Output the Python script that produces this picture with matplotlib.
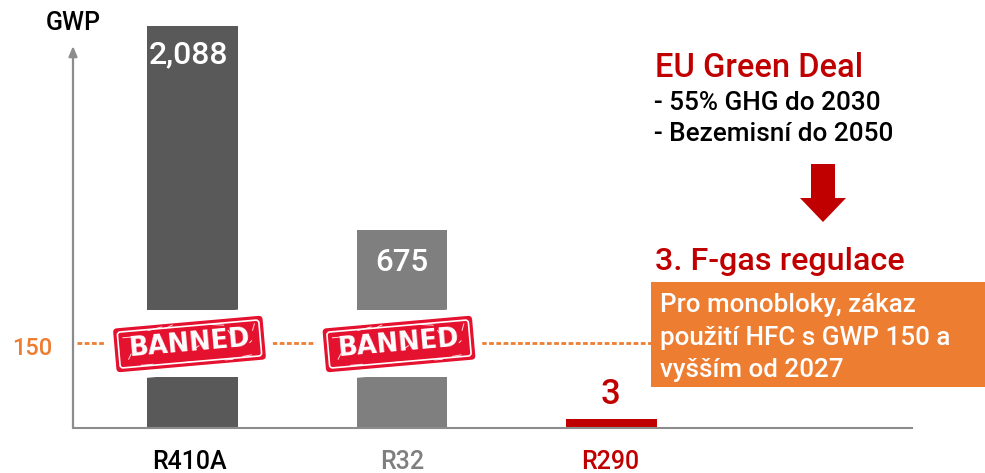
import numpy as np
import matplotlib
matplotlib.use('Agg')
import matplotlib.pyplot as plt
from matplotlib.patches import FancyBboxPatch, Polygon, Rectangle
from matplotlib.transforms import Affine2D

plt.rcParams['font.family'] = ['Roboto', 'DejaVu Sans']

W, H = 985, 473

refrigerants = ['R410A', 'R32', 'R290']
gwp_values = [2088, 675, 3]
gwp_labels = ['2,088', '675', '3']
bar_colors = ['#595959', '#7f7f7f', '#c00000']
label_colors = ['#000000', '#7f7f7f', '#c00000']
limit_gwp = 150
limit_label = '150'
banned_refrigerants = ['R410A', 'R32']
deal_lines = ['- 55% GHG do 2030', '- Bezemisní do 2050']
box_lines = ['Pro monobloky, zákaz', 'použití HFC s GWP 150 a', 'vyšším od 2027']

# the original bars are not to scale, so the y axis is piecewise
scale_values = [0, 3, 150, 675, 2088, 2500]
scale_heights = [0, 9, 85, 198, 402, 428]


def forward(v):
    return np.interp(v, scale_values, scale_heights)


def inverse(h):
    return np.interp(h, scale_heights, scale_values)


def put(x, y, s, **kw):
    # text placed by pixel position, y from the top
    kw.setdefault('ha', 'left')
    kw.setdefault('va', 'center')
    return fig.text(x / W, 1 - y / H, s, **kw)


fig = plt.figure(figsize=(W / 100, H / 100), dpi=100)
ax = fig.add_axes([73 / W, (H - 428) / H, (912 - 73) / W, 428 / H])
ax.set_yscale('function', functions=(forward, inverse))
ax.set_ylim(0, 2500)
ax.set_xlim(-0.570, 3.434)
ax.patch.set_alpha(0)

x = np.arange(len(refrigerants))
ax.bar(x, gwp_values, width=0.434, color=bar_colors, zorder=2)

for s in ['top', 'right', 'left']:
    ax.spines[s].set_visible(False)
ax.spines['bottom'].set_color('#8c8c8c')
ax.spines['bottom'].set_linewidth(1.5)
ax.set_xticks([])
ax.set_yticks([])
ax.minorticks_off()

# y axis arrow
ax.annotate('', xy=(73 / W, 1 - 46 / H), xytext=(73 / W, 1 - 428 / H), xycoords='figure fraction',
            textcoords='figure fraction',
            arrowprops=dict(arrowstyle='-|>,head_width=0.25,head_length=0.6', color='#8c8c8c', lw=1.6,
                            shrinkA=0, shrinkB=0), annotation_clip=False)

# break in the banned bars
for name in banned_refrigerants:
    i = refrigerants.index(name)
    ax.bar(i, inverse(118) - inverse(51), bottom=inverse(51), width=0.45, color='white', zorder=3)

# limit line
ax.plot([-0.55, 2.195], [limit_gwp, limit_gwp], color='#ed7d31', lw=2, dashes=(1.7, 0.9), zorder=3)

# worn spots on the stamp, offsets from its centre
wear = [(-66, 12, 8, 0), (-40, 17, 14, 10), (-10, -18, 10, 0), (20, 18, 16, -8), (52, -17, 9, 5),
        (64, 8, 7, 70), (-62, -10, 6, 60), (-50, -17, 12, 0), (34, -19, 8, 0), (-22, 18, 7, 20),
        (5, -5, 5, 30), (-33, 6, 4, 60), (42, 6, 5, 120), (-56, 4, 3, 0), (60, -4, 3, 40)]

for name in banned_refrigerants:
    i = refrigerants.index(name)
    px = 192.5 + 209.5 * i - 3
    py = 344
    tr = Affine2D().rotate_deg_around(px, H - py, 5)
    ax.add_patch(Rectangle((px - 83, H - py - 30), 166, 60, transform=tr, fc='white', ec='none', zorder=4))
    ax.add_patch(FancyBboxPatch((px - 75, H - py - 22), 150, 44, boxstyle='round,pad=0,rounding_size=4',
                                transform=tr, fc='#e4112f', ec='none', zorder=5))
    ax.add_patch(FancyBboxPatch((px - 71, H - py - 18), 142, 36, boxstyle='round,pad=0,rounding_size=3',
                                transform=tr, fc='none', ec='white', lw=1.2, zorder=6))
    for dx, dy, length, angle in wear:
        a = np.radians(angle)
        ax.plot([px + dx, px + dx + length * np.cos(a)], [H - py + dy, H - py + dy + length * np.sin(a)],
                transform=tr, color='white', lw=0.7, alpha=0.85, solid_capstyle='round', zorder=6)
    put(px, py, 'BANNED', ha='center', color='white', fontsize=18.5, fontweight='bold', rotation=5,
        rotation_mode='anchor', family=['DejaVu Sans'], zorder=7)

# bar value and category labels
value_x = [189, 401.5, 611]
value_y = [55, 262, 394]
value_sizes = [23, 22.5, 25]
cat_x = [189.5, 402, 610]
for i, lab in enumerate(gwp_labels):
    put(value_x[i], value_y[i], lab, ha='center', fontsize=value_sizes[i], fontweight='medium',
        color='white' if i < 2 else '#c00000', zorder=8)
    put(cat_x[i], 462, refrigerants[i], ha='center', fontsize=18, fontweight='medium',
        color=label_colors[i])

put(73, 23, 'GWP', ha='center', fontsize=18, color='black', fontweight='medium')
put(32, 348, limit_label, ha='center', fontsize=17, color='#ed7d31', fontweight='medium')

# right hand notes
put(655, 68, 'EU Green Deal', fontsize=23.5, color='#c00000', fontweight='medium')
put(654, 103, deal_lines[0], fontsize=18.8, color='black', fontweight='medium')
put(654, 134, deal_lines[1], fontsize=18.8, color='black', fontweight='medium')

fig.add_artist(Polygon([(811, H - 164), (835, H - 164), (835, H - 198), (846, H - 198), (823, H - 222),
                        (800, H - 198), (811, H - 198)], transform=None, fc='#c00000', ec='none'))

put(655, 261, '3. F-gas regulace', fontsize=23.3, color='#c00000', fontweight='medium')
fig.add_artist(Rectangle((651, H - 387), 334, 105, transform=None, fc='#ed7d31', ec='none'))
for line, y in zip(box_lines, [305, 338, 370]):
    put(660, y, line, fontsize=18.7, color='white', fontweight='medium', zorder=5)

fig.savefig('out.png', dpi=100)
